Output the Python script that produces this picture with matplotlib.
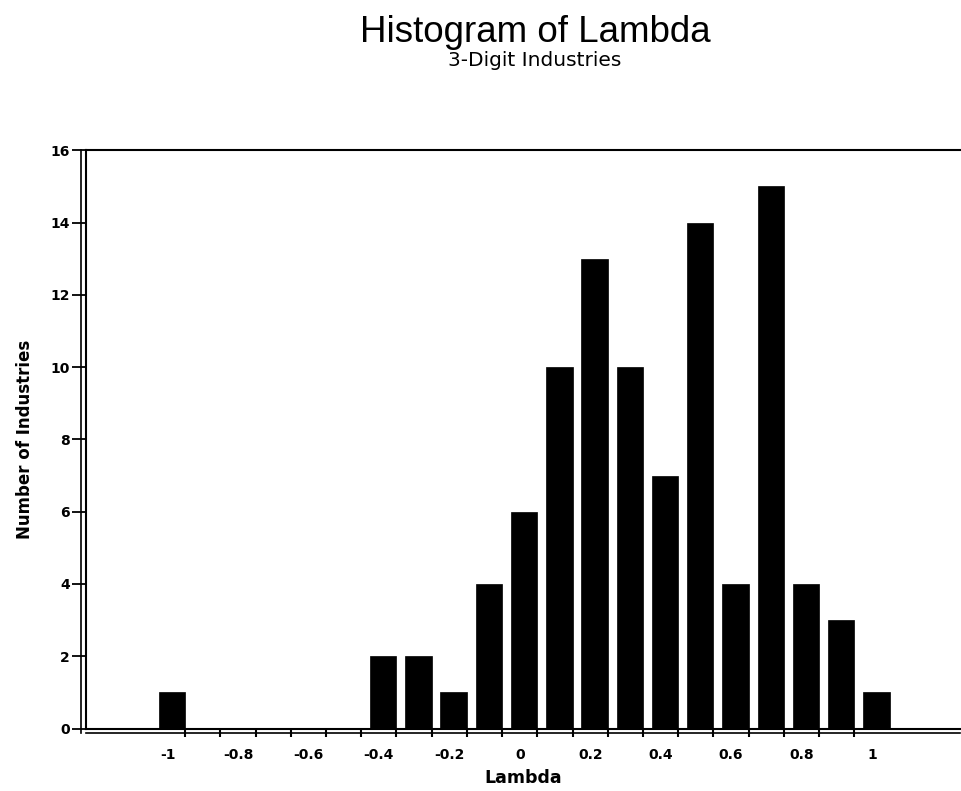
import matplotlib
matplotlib.use("Agg")
import matplotlib.pyplot as plt
import matplotlib.transforms as mtransforms
import numpy as np

plt.rcParams['font.family'] = ['Liberation Sans', 'DejaVu Sans']

# Histogram bins (bin centre) and counts
lambda_bins = [-1.0, -0.4, -0.3, -0.2, -0.1, 0.0, 0.1, 0.2, 0.3, 0.4, 0.5, 0.6, 0.7, 0.8, 0.9, 1.0]
industry_counts = [1, 2, 2, 1, 4, 6, 10, 13, 10, 7, 14, 4, 15, 4, 3, 1]
x_tick_labels = ['-1', '-0.8', '-0.6', '-0.4', '-0.2', '0', '0.2', '0.4', '0.6', '0.8', '1']
y_ticks = [0, 2, 4, 6, 8, 10, 12, 14, 16]

fig = plt.figure(figsize=(9.61, 7.91), dpi=100)
ax = fig.add_axes([0.09, 0.079, 0.909, 0.731])

# bars sit against the right edge of each 0.1 wide bin
bin_w = 0.1
bar_w = 0.075
lefts = np.array(lambda_bins) + bin_w / 2 - bar_w
ax.bar(lefts, industry_counts, width=bar_w, align='edge', color='black', edgecolor='black', linewidth=0.5)

ax.set_xlim(-1.23, 1.25)
ax.set_ylim(0, 16)

tick_font = dict(family='DejaVu Sans', fontsize=10, fontweight='bold')

# labels at bin centres, tick marks at bin edges
ax.set_xticks(np.arange(-1.0, 1.01, 0.2))
ax.set_xticklabels(x_tick_labels, **tick_font)
ax.tick_params(axis='x', which='major', length=0, pad=14)
ax.set_xticks(np.arange(-0.95, 0.96, 0.1), minor=True)
ax.tick_params(axis='x', which='minor', length=6, width=1.5, direction='out')

ax.set_yticks(y_ticks)
ax.set_yticklabels([str(v) for v in y_ticks], **tick_font)
ax.tick_params(axis='y', length=10, width=1.3, direction='out', pad=2)

ax.spines['right'].set_visible(False)
for s in ['left', 'bottom', 'top']:
    ax.spines[s].set_linewidth(1.5)

# second line of the double frame (left of the y axis, below the x axis)
left_tr = mtransforms.offset_copy(ax.transAxes, fig=fig, x=-5, y=0, units='dots')
ax.plot([0, 0], [-0.007, 1], color='black', lw=1.2, transform=left_tr, clip_on=False)
bot_tr = mtransforms.offset_copy(ax.transAxes, fig=fig, x=0, y=-4, units='dots')
ax.plot([0, 1], [0, 0], color='black', lw=1.2, transform=bot_tr, clip_on=False)

ax.set_xlabel('Lambda', family='DejaVu Sans', fontsize=12.5, fontweight='bold', labelpad=5)
ax.set_ylabel('Number of Industries', family='DejaVu Sans', fontsize=12, fontweight='bold', labelpad=12)

fig.text(0.557, 0.947, 'Histogram of Lambda', ha='center', va='baseline', fontsize=26.5)
fig.text(0.556, 0.917, '3-Digit Industries', family='DejaVu Sans', ha='center', va='baseline', fontsize=14.5)

fig.savefig('out.png', dpi=100)
